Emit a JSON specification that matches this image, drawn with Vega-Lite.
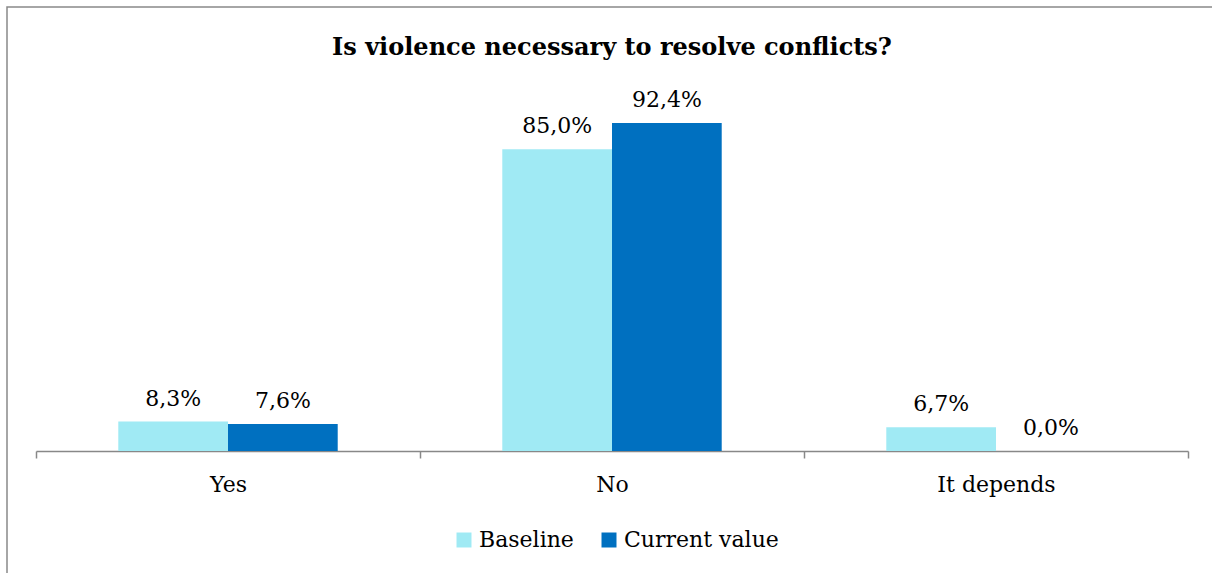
{
  "$schema": "https://vega.github.io/schema/vega-lite/v6.json",
  "width": 1210,
  "height": 570,
  "autosize": {"type": "none"},
  "padding": {"left": 7, "top": 7, "right": 0, "bottom": 0},
  "background": "white",
  "title": {
    "text": "Is violence necessary to resolve conflicts?",
    "font": "DejaVu Serif",
    "fontSize": 24,
    "fontWeight": "bold",
    "color": "black",
    "anchor": "middle",
    "frame": "group",
    "baseline": "alphabetic",
    "offset": -72
  },
  "data": {
    "values": [
      {"category": "Yes", "series": "Baseline", "value": 0.083},
      {"category": "Yes", "series": "Current value", "value": 0.076},
      {"category": "No", "series": "Baseline", "value": 0.85},
      {"category": "No", "series": "Current value", "value": 0.924},
      {"category": "It depends", "series": "Baseline", "value": 0.067},
      {"category": "It depends", "series": "Current value", "value": 0.0}
    ]
  },
  "encoding": {
    "x": {
      "field": "category",
      "type": "nominal",
      "sort": ["Yes", "No", "It depends"],
      "scale": {"range": [29, 1181], "paddingInner": 0, "paddingOuter": 0},
      "axis": {
        "title": null,
        "orient": "bottom",
        "offset": -126,
        "domainColor": "#888888",
        "domainWidth": 1.5,
        "tickColor": "#888888",
        "tickWidth": 1.5,
        "tickSize": 7,
        "tickBand": "extent",
        "labelFont": "DejaVu Serif",
        "labelFontSize": 22,
        "labelColor": "black",
        "labelPadding": 16,
        "labelAngle": 0,
        "grid": false
      }
    },
    "xOffset": {
      "field": "series",
      "type": "nominal",
      "sort": ["Baseline", "Current value"],
      "scale": {"paddingInner": 0, "paddingOuter": 0.75}
    },
    "y": {
      "field": "value",
      "type": "quantitative",
      "scale": {"domain": [0, 1], "range": [444, 89], "nice": false, "zero": true},
      "axis": null
    }
  },
  "layer": [
    {
      "mark": {"type": "bar"},
      "encoding": {
        "color": {
          "field": "series",
          "type": "nominal",
          "sort": ["Baseline", "Current value"],
          "scale": {"domain": ["Baseline", "Current value"], "range": ["#A0EAF4", "#0070C0"]},
          "legend": {
            "title": null,
            "orient": "none",
            "legendX": 446,
            "legendY": 522,
            "direction": "horizontal",
            "symbolType": "square",
            "symbolSize": 225,
            "symbolStrokeWidth": 0,
            "symbolOpacity": 1,
            "labelFont": "DejaVu Serif",
            "labelFontSize": 22,
            "labelColor": "black",
            "labelOffset": 4,
            "columnPadding": 24
          }
        }
      }
    },
    {
      "mark": {"type": "text", "baseline": "alphabetic", "dy": -16, "font": "DejaVu Serif", "fontSize": 22, "color": "black"},
      "encoding": {
        "text": {"field": "value", "type": "quantitative", "format": ".1%"}
      }
    }
  ],
  "config": {
    "view": {"stroke": "#898989", "strokeWidth": 1.5},
    "locale": {
      "number": {"decimal": ",", "thousands": ".", "grouping": [3], "currency": ["", " €"]}
    }
  }
}
